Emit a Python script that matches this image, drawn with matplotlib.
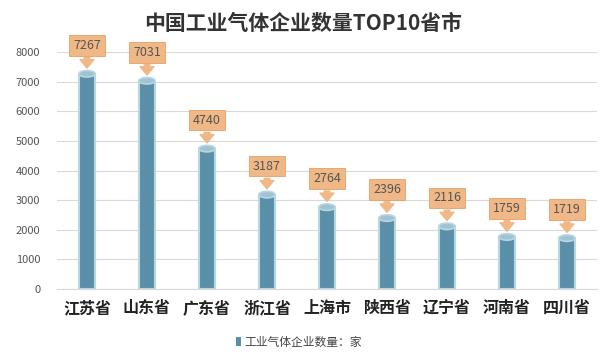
import matplotlib.pyplot as plt
from matplotlib.patches import Ellipse

plt.rcParams['font.family'] = ['Noto Sans CJK SC', 'DejaVu Sans']

# data
provinces = ['江苏省', '山东省', '广东省', '浙江省', '上海市', '陕西省', '辽宁省', '河南省', '四川省']
counts = [7267, 7031, 4740, 3187, 2764, 2396, 2116, 1759, 1719]
yticks = [0, 1000, 2000, 3000, 4000, 5000, 6000, 7000, 8000]

bar_color = '#5a8fa8'
edge_color = '#b9d6e3'
top_color = '#9fc3d3'
box_color = '#f1b887'
box_edge = '#e6a066'

fig = plt.figure(figsize=(6, 3.59), dpi=100)
ax = fig.add_axes([0.095, 0.195, 0.9, 0.66])

x = list(range(len(provinces)))
bw = 0.27
ax.bar(x, counts, width=bw, color=bar_color, edgecolor=edge_color, linewidth=1.5, zorder=3)
for xi, v in zip(x, counts):
    ax.add_patch(Ellipse((xi, v), bw, 220, fc=top_color, ec=edge_color, lw=1.2, zorder=4))
    ax.add_patch(Ellipse((xi, 0), bw, 220, fc=bar_color, ec=edge_color, lw=1.2, zorder=2))
    # callout label with down arrow
    ax.annotate('', xy=(xi, v + 100), xytext=(xi, v + 640),
                arrowprops=dict(arrowstyle='simple,head_width=1.0,head_length=0.6,tail_width=0.4',
                                fc=box_color, ec=box_color), zorder=7, annotation_clip=False)
    ax.text(xi, v + 960, str(v), ha='center', va='center', fontsize=9, color='#555555',
            zorder=6, clip_on=False,
            bbox=dict(boxstyle='square,pad=0.3', fc=box_color, ec=box_edge, lw=0.6))

ax.set_xlim(-0.5, len(provinces) - 0.5)
ax.set_ylim(0, 8000)
ax.set_yticks(yticks)
ax.set_yticklabels([str(t) for t in yticks], fontsize=8, color='#555555')
ax.set_xticks(x)
ax.set_xticklabels(provinces, fontsize=11.5, fontweight='bold', color='#222222')
ax.tick_params(axis='both', length=0, pad=8)
ax.tick_params(axis='y', pad=12)
ax.grid(axis='y', color='#d9d9d9', linewidth=0.8, zorder=0)
for s in ['top', 'right', 'left']:
    ax.spines[s].set_visible(False)
ax.spines['bottom'].set_color('#d9d9d9')

fig.text(0.505, 0.935, '中国工业气体企业数量TOP10省市', ha='center', va='center',
         fontsize=15, fontweight='bold', color='#333333')

# legend
fig.patches.append(plt.Rectangle((0.393, 0.035), 0.008, 0.025, transform=fig.transFigure,
                                 fc=bar_color, ec='none'))
fig.text(0.408, 0.047, '工业气体企业数量：家', ha='left', va='center', fontsize=8.5, color='#444444')

fig.savefig('out.png', dpi=100, facecolor='white')
